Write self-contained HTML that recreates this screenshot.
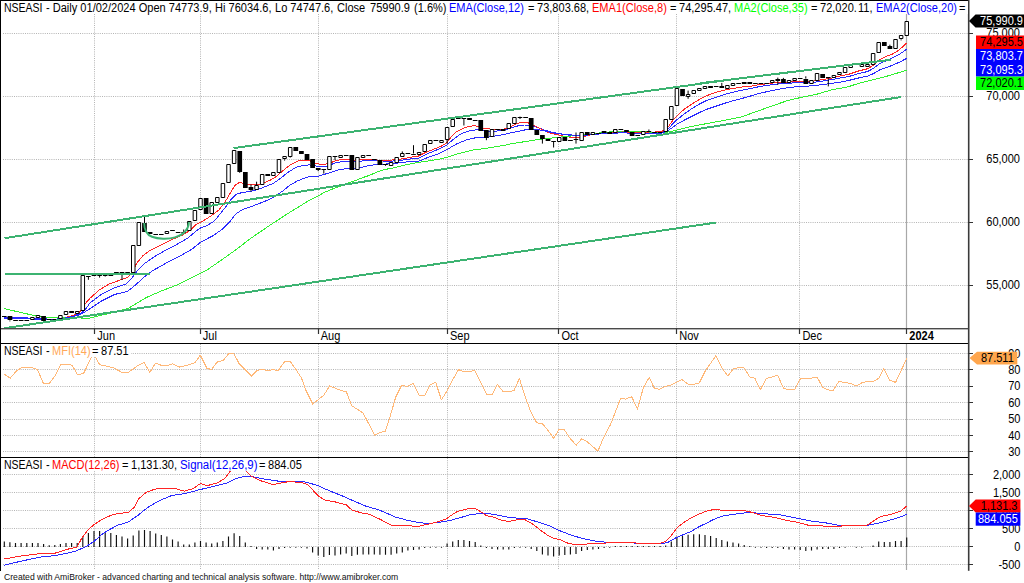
<!DOCTYPE html>
<html><head><meta charset="utf-8"><title>NSEASI - AmiBroker</title>
<style>
html,body{margin:0;padding:0;background:#fff;}
body{width:1024px;height:583px;overflow:hidden;position:relative;font-family:"Liberation Sans",Arial,sans-serif;font-size:12px;color:#000;}
svg{position:absolute;left:0;top:0;}
svg text{font-family:"Liberation Sans",Arial,sans-serif;font-size:12px;}
.t{position:absolute;white-space:pre;line-height:13px;height:13px;transform:scaleX(0.92);transform-origin:0 0;}
</style></head><body>
<svg width="1024" height="583" viewBox="0 0 1024 583">
<path d="M3 33.5H968 M3 96.5H968 M3 159.5H968 M3 222.5H968 M3 285.5H968 M3 353.5H968 M3 369.5H968 M3 386.5H968 M3 402.5H968 M3 419.5H968 M3 435.5H968 M3 451.5H968 M3 474.5H968 M3 492.5H968 M3 510.5H968 M3 528.5H968 M3 546.5H968 M3 564.5H968" stroke="#b4b4b4" stroke-width="1" stroke-dasharray="1 1.2" fill="none"/>
<path d="M94.5 14V328 M94.5 344V457 M94.5 458V570 M200.5 14V328 M200.5 344V457 M200.5 458V570 M318.5 14V328 M318.5 344V457 M318.5 458V570 M447.5 14V328 M447.5 344V457 M447.5 458V570 M558.5 14V328 M558.5 344V457 M558.5 458V570 M676.5 14V328 M676.5 344V457 M676.5 458V570 M799.5 14V328 M799.5 344V457 M799.5 458V570" stroke="#b4b4b4" stroke-width="1" stroke-dasharray="1 1.2" fill="none"/>
<path d="M906.5 14V328 M906.5 344V457 M906.5 458V570" stroke="#a8a8a8" stroke-width="1.2" fill="none"/>
<clipPath id="c1"><rect x="1" y="1" width="967" height="327"/></clipPath>
<clipPath id="c2"><rect x="1" y="344" width="967" height="113"/></clipPath>
<clipPath id="c3"><rect x="1" y="458" width="967" height="112"/></clipPath>
<g clip-path="url(#c1)">
<polyline points="4.0,317.3 31.0,318.1 53.5,319.4 61.7,318.4 72.0,316.3 79.2,314.2 84.4,310.6 90.0,303.0 101.3,294.5 114.5,287.9 125.8,284.2 131.5,278.5 137.2,270.9 144.7,263.4 154.2,256.8 165.5,250.2 176.8,244.5 188.1,237.9 195.7,231.3 201.3,227.5 207.0,225.7 214.5,220.9 219.3,214.9 225.5,207.2 230.9,199.5 236.3,194.1 242.5,192.5 250.2,191.5 257.9,189.5 265.7,186.4 273.4,183.3 281.1,177.9 288.8,171.7 296.6,167.1 304.3,165.3 309.3,164.9 318.5,166.4 326.3,166.8 334.0,163.3 343.2,161.4 352.5,162.2 361.8,161.0 372.6,160.7 383.4,161.0 392.7,161.0 401.9,160.2 411.2,158.8 419.3,158.0 428.5,153.3 437.8,149.5 447.1,144.8 453.2,139.4 459.4,134.8 465.6,132.0 471.8,130.2 478.0,129.8 484.1,130.9 493.4,131.4 502.7,130.5 510.4,128.3 518.1,125.8 524.3,125.0 528.0,125.1 532.4,125.6 538.5,127.9 544.7,130.2 550.9,132.0 558.6,133.7 566.3,134.8 575.6,135.9 584.9,135.6 594.1,134.1 603.4,133.3 612.7,132.8 621.9,132.2 631.2,132.8 645.4,132.9 660.9,132.6 667.1,130.3 671.7,124.9 676.3,120.2 684.1,114.1 691.8,108.6 699.5,104.0 707.2,100.2 716.5,97.1 725.8,94.0 735.0,91.7 744.3,89.7 749.3,88.7 758.5,86.8 767.8,85.3 777.1,84.1 786.3,83.3 795.6,82.8 804.9,82.8 814.1,82.2 823.4,81.0 832.7,79.4 841.9,77.6 849.3,76.4 858.5,73.6 867.8,71.5 874.0,67.9 880.2,63.3 886.3,60.7 892.5,57.9 898.7,54.8 903.3,51.7 906.5,49.2" fill="none" stroke="#2a2aff" stroke-width="1" stroke-linejoin="round" shape-rendering="crispEdges" />
<polyline points="63.8,317.8 72.0,315.8 78.2,313.2 81.3,310.1 85.4,303.4 90.0,298.3 99.4,289.8 108.9,284.2 120.2,280.0 127.7,277.5 132.5,270.9 137.2,262.5 142.8,255.8 150.4,250.2 161.7,244.5 171.1,239.8 182.5,235.1 190.0,230.4 195.7,224.7 203.2,220.9 210.1,216.5 218.6,210.3 224.7,202.6 230.2,193.3 234.8,185.6 239.4,182.5 244.1,183.3 248.7,184.8 256.4,184.8 262.6,183.3 270.3,180.2 276.5,176.3 282.7,170.9 290.4,164.7 298.1,160.9 304.3,160.1 309.0,160.3 315.4,163.3 323.2,164.8 329.3,163.3 337.1,160.2 346.3,159.4 352.5,160.2 361.8,159.4 371.0,159.7 380.3,160.2 389.6,160.2 398.8,159.4 408.1,157.9 414.3,156.6 417.7,156.4 425.4,152.5 433.2,149.5 440.9,146.4 447.1,142.5 451.7,136.3 456.3,131.7 462.5,128.6 468.7,126.6 474.9,125.5 479.5,127.1 485.7,128.6 493.4,129.4 502.7,129.4 510.4,126.8 518.1,123.2 524.3,122.3 528.0,122.8 532.4,124.8 538.5,127.9 544.7,131.0 550.9,133.3 558.6,134.8 566.3,136.8 574.1,137.5 581.8,136.8 588.0,135.6 594.1,134.1 603.4,133.0 612.7,132.5 621.9,131.7 631.2,132.4 645.4,132.3 660.9,131.8 667.1,128.7 671.7,121.8 676.3,116.4 684.1,109.4 691.8,104.0 699.5,99.4 707.2,95.5 716.5,92.1 725.8,89.8 735.0,88.1 744.3,86.7 749.3,86.4 758.5,84.8 767.8,83.7 777.1,82.5 786.3,82.2 795.6,81.7 804.9,81.7 814.1,81.0 823.4,79.4 832.7,77.9 841.9,75.6 849.3,74.1 858.5,71.0 867.8,68.7 874.0,64.8 880.2,59.4 886.3,56.3 892.5,54.0 898.7,50.2 903.3,46.3 906.5,42.8" fill="none" stroke="#ff2424" stroke-width="1" stroke-linejoin="round" shape-rendering="crispEdges" />
<polyline points="4.0,308.6 15.4,311.2 30.9,314.8 41.2,316.8 53.5,317.3 66.9,317.5 78.2,317.8 85.4,318.4 90.0,318.1 108.9,313.4 127.7,308.7 137.2,303.0 146.6,297.4 161.7,290.8 176.8,285.1 191.9,277.5 207.0,270.0 222.1,259.6 235.3,250.2 250.0,238.9 268.0,226.5 278.0,220.0 290.4,211.9 301.7,205.0 309.5,200.2 317.3,196.3 325.2,192.0 333.0,188.8 340.8,186.1 348.6,183.0 356.4,180.2 364.2,177.1 370.0,175.2 375.6,172.6 383.4,169.8 391.3,168.3 399.1,166.5 406.9,164.6 414.7,163.0 422.5,161.8 430.3,160.6 440.0,159.1 447.1,157.2 456.3,154.1 465.6,151.8 474.9,149.5 484.1,148.7 493.4,147.1 502.7,145.6 511.9,143.7 521.2,142.2 529.3,141.0 538.5,139.5 547.8,138.4 557.1,137.5 566.3,136.4 575.6,135.6 584.9,134.5 594.1,133.7 603.4,132.5 612.7,131.7 621.9,131.0 631.2,131.2 645.4,131.8 660.9,132.6 670.2,131.8 679.4,129.5 691.8,126.4 704.1,124.1 716.5,121.8 728.8,119.5 741.2,117.0 755.4,111.9 770.9,106.4 786.3,101.0 801.8,97.2 817.2,94.1 832.7,89.5 840.0,88.5 849.3,86.4 858.5,83.4 867.8,81.0 877.1,78.7 886.3,76.4 895.6,73.6 906.5,70.3" fill="none" stroke="#30f030" stroke-width="1" stroke-linejoin="round" shape-rendering="crispEdges" />
<polyline points="4.0,318.4 31.0,318.9 53.5,319.6 66.9,317.8 78.2,315.3 84.4,312.2 90.0,308.7 101.3,301.1 114.5,294.5 127.7,291.3 135.3,285.1 144.7,276.6 152.3,270.9 165.5,263.4 178.7,256.8 191.9,249.2 201.3,241.7 212.6,236.0 222.1,229.4 229.6,221.9 236.3,213.4 244.1,208.8 251.8,206.4 259.5,203.4 267.2,200.3 274.9,196.4 282.7,191.0 290.4,184.8 298.1,180.6 304.3,178.2 309.3,176.6 318.5,176.1 327.8,173.3 337.1,170.2 346.3,168.7 355.6,169.0 364.9,166.4 374.1,164.8 383.4,164.1 392.7,163.7 401.9,162.5 411.2,161.4 419.3,161.0 428.5,157.2 437.8,154.1 447.1,149.5 456.3,144.1 465.6,140.2 474.9,137.9 484.1,137.9 493.4,136.3 502.7,134.8 511.9,132.5 521.2,130.8 526.2,129.6 532.4,129.1 538.5,129.7 544.7,131.0 550.9,132.5 558.6,133.7 566.3,134.5 575.6,135.3 584.9,135.3 594.1,134.4 603.4,133.7 612.7,133.3 621.9,132.8 631.2,133.2 645.4,133.5 660.9,133.2 667.1,131.4 671.7,128.0 676.3,124.6 684.1,120.2 691.8,116.4 699.5,112.5 707.2,109.1 716.5,106.0 725.8,102.9 735.0,100.2 744.3,97.8 749.3,96.4 758.5,93.6 767.8,91.5 777.1,89.5 786.3,87.9 795.6,86.8 804.9,86.4 814.1,85.6 823.4,84.4 832.7,83.3 841.9,81.8 849.3,80.3 858.5,78.0 867.8,76.1 874.0,73.3 880.2,69.5 886.3,67.5 892.5,65.3 898.7,62.5 903.3,60.2 906.5,58.4" fill="none" stroke="#2a2aff" stroke-width="1" stroke-linejoin="round" shape-rendering="crispEdges" />
<path d="M9.9 320.4V321.4 M88.4 276.5V279.8 M99.6 275.5V277.6 M105.2 275.5V276.6 M122.0 272.5V280.0 M144.5 216.7V223.2 M183.7 229.5V233.2 M239.7 171.7V172.8 M251.0 184.5V186.8 M251.0 189.9V191.5 M256.6 181.7V185.3 M284.6 159.3V160.6 M290.2 156.6V157.6 M318.2 170.0V171.2 M323.8 169.5V173.6 M335.0 156.5V160.2 M385.5 164.8V165.8 M402.3 151.4V153.2 M413.5 145.2V153.5 M447.1 139.7V144.0 M463.9 118.5V125.5 M486.4 137.6V140.2 M520.0 116.6V119.0 M542.4 139.0V143.6 M553.6 141.5V147.5 M576.0 132.5V143.6 M648.9 129.5V130.9 M688.1 90.6V94.2 M688.1 96.8V98.8 M721.8 82.9V86.3 M777.8 77.6V79.4 M777.8 81.0V84.8 M783.4 77.9V79.4 M805.8 76.3V78.6 M828.3 78.2V86.4 M856.3 63.0V64.0 M889.9 44.7V46.3 M901.1 39.3V40.4" stroke="#000" stroke-width="1" fill="none"/>
<path d="M2.0 316.5H6.6 M24.4 320.5H29.1 M46.9 319.5H51.5 M86.1 276.5H90.7 M97.3 275.5H101.9 M102.9 275.5H107.5 M119.7 272.5H124.3 M125.3 272.5H129.9 M153.4 234.5H158.0 M159.0 234.5H163.6 M175.8 232.5H180.4 M181.4 232.5H186.0 M321.5 169.5H326.1 M332.7 156.5H337.3 M343.9 155.5H348.5 M405.6 153.5H410.2 M456.0 118.5H460.6 M461.6 118.5H466.2 M495.3 129.5H499.9 M517.7 117.5H522.3 M551.3 141.5H555.9 M573.7 139.5H578.3 M596.2 133.5H600.8 M635.4 135.5H640.0 M657.8 132.5H662.4 M713.9 86.5H718.5 M736.3 83.5H740.9 M753.1 83.5H757.7 M758.7 83.5H763.3 M764.3 83.5H768.9 M797.9 78.5H802.5" stroke="#000" stroke-width="1" fill="none"/>
<path d="M30.61 317.5H34.11V319.5H30.61Z M36.21 315.5H39.71V317.5H36.21Z M58.63 315.5H62.13V318.5H58.63Z M64.23 311.5H67.73V314.5H64.23Z M75.45 311.5H78.95V313.5H75.45Z M81.05 275.5H84.55V310.5H81.05Z M131.50 245.5H135.00V272.5H131.50Z M137.10 222.5H140.60V245.5H137.10Z M165.13 231.5H168.63V233.5H165.13Z M187.55 221.5H191.05V230.5H187.55Z M193.15 210.5H196.65V220.5H193.15Z M198.76 198.5H202.26V209.5H198.76Z M209.97 202.5H213.47V213.5H209.97Z M215.57 197.5H219.07V202.5H215.57Z M221.18 183.5H224.68V197.5H221.18Z M226.78 164.5H230.28V182.5H226.78Z M232.39 150.5H235.89V163.5H232.39Z M254.81 185.5H258.31V189.5H254.81Z M260.41 174.5H263.91V184.5H260.41Z M271.62 172.5H275.12V175.5H271.62Z M277.23 159.5H280.73V172.5H277.23Z M282.83 156.5H286.33V158.5H282.83Z M288.44 147.5H291.94V156.5H288.44Z M327.67 156.5H331.17V169.5H327.67Z M338.88 155.5H342.38V157.5H338.88Z M355.69 157.5H359.19V169.5H355.69Z M361.30 155.5H364.80V157.5H361.30Z M389.32 162.5H392.82V165.5H389.32Z M394.93 157.5H398.43V162.5H394.93Z M400.54 153.5H404.04V156.5H400.54Z M417.35 152.5H420.85V154.5H417.35Z M422.96 144.5H426.46V151.5H422.96Z M428.56 140.5H432.06V143.5H428.56Z M439.77 140.5H443.27V142.5H439.77Z M445.38 127.5H448.88V139.5H445.38Z M450.98 119.5H454.48V126.5H450.98Z M490.22 129.5H493.72V136.5H490.22Z M507.03 123.5H510.53V128.5H507.03Z M512.64 117.5H516.14V123.5H512.64Z M557.48 137.5H560.98V141.5H557.48Z M579.90 132.5H583.40V140.5H579.90Z M591.11 132.5H594.61V134.5H591.11Z M613.53 129.5H617.03V132.5H613.53Z M641.55 131.5H645.05V134.5H641.55Z M663.97 119.5H667.47V131.5H663.97Z M669.58 106.5H673.08V119.5H669.58Z M675.18 88.5H678.68V105.5H675.18Z M686.39 94.5H689.89V96.5H686.39Z M692.00 90.5H695.50V93.5H692.00Z M697.60 88.5H701.10V90.5H697.60Z M703.21 86.5H706.71V88.5H703.21Z M725.63 85.5H729.13V88.5H725.63Z M731.23 83.5H734.73V85.5H731.23Z M770.47 80.5H773.97V82.5H770.47Z M787.28 80.5H790.78V82.5H787.28Z M792.89 78.5H796.39V80.5H792.89Z M809.70 80.5H813.20V83.5H809.70Z M815.31 73.5H818.81V80.5H815.31Z M832.12 75.5H835.62V77.5H832.12Z M837.73 72.5H841.23V74.5H837.73Z M843.33 67.5H846.83V72.5H843.33Z M848.94 65.5H852.44V67.5H848.94Z M860.15 64.5H863.65V66.5H860.15Z M865.75 64.5H869.25V66.5H865.75Z M871.36 53.5H874.86V64.5H871.36Z M876.96 42.5H880.46V52.5H876.96Z M893.78 39.5H897.28V48.5H893.78Z M899.38 35.5H902.88V38.5H899.38Z M904.99 21.5H908.49V35.5H904.99Z" stroke="#000" stroke-width="1" fill="#fff"/>
<path d="M7.59 316H12.29V320H7.59Z M13.19 320H17.89V321H13.19Z M18.80 320H23.50V321H18.80Z M41.21 316H45.91V321H41.21Z M52.43 319H57.13V320H52.43Z M69.24 311H73.94V313H69.24Z M91.66 274H96.36V276H91.66Z M108.48 274H113.17V276H108.48Z M114.08 272H118.78V273H114.08Z M142.11 223H146.81V232H142.11Z M147.71 232H152.41V234H147.71Z M170.13 230H174.83V231H170.13Z M203.76 198H208.46V214H203.76Z M237.39 151H242.09V172H237.39Z M243.00 172H247.70V188H243.00Z M248.60 187H253.30V190H248.60Z M265.41 174H270.12V176H265.41Z M293.44 147H298.14V151H293.44Z M299.04 151H303.75V154H299.04Z M304.65 154H309.35V160H304.65Z M310.25 159H314.96V168H310.25Z M315.86 168H320.56V170H315.86Z M349.49 155H354.19V170H349.49Z M366.31 155H371.01V156H366.31Z M371.91 159H376.61V160H371.91Z M377.51 160H382.22V165H377.51Z M383.12 164H387.82V165H383.12Z M411.14 154H415.85V155H411.14Z M433.56 140H438.27V141H433.56Z M467.19 118H471.90V120H467.19Z M472.80 120H477.50V121H472.80Z M478.40 120H483.11V131H478.40Z M484.01 130H488.71V138H484.01Z M500.82 129H505.53V131H500.82Z M523.25 117H527.95V118H523.25Z M528.85 118H533.55V130H528.85Z M534.46 130H539.16V135H534.46Z M540.06 135H544.76V139H540.06Z M545.67 139H550.37V141H545.67Z M562.48 137H567.18V141H562.48Z M568.09 140H572.79V141H568.09Z M584.90 132H589.60V135H584.90Z M601.72 131H606.42V133H601.72Z M607.32 132H612.02V134H607.32Z M618.53 129H623.23V130H618.53Z M624.14 130H628.84V132H624.14Z M629.74 132H634.44V136H629.74Z M646.56 131H651.26V132H646.56Z M652.16 132H656.86V133H652.16Z M680.19 89H684.89V96H680.19Z M708.21 86H712.91V88H708.21Z M719.42 86H724.12V88H719.42Z M741.84 82H746.54V84H741.84Z M747.45 82H752.15V84H747.45Z M775.47 79H780.17V81H775.47Z M781.08 79H785.78V83H781.08Z M803.50 79H808.20V84H803.50Z M820.31 74H825.01V78H820.31Z M825.92 77H830.62V78H825.92Z M853.94 64H858.64V65H853.94Z M881.97 42H886.67V46H881.97Z M887.57 46H892.27V49H887.57Z" fill="#000"/>
<line x1="4.6" y1="273.9" x2="150.3" y2="273.9" stroke="#3cb371" stroke-width="2" shape-rendering="crispEdges"/>
<line x1="4.5" y1="238.2" x2="901" y2="97.0" stroke="#3cb371" stroke-width="2" shape-rendering="crispEdges"/>
<line x1="233.5" y1="148.1" x2="737" y2="78.7" stroke="#3cb371" stroke-width="2" shape-rendering="crispEdges"/>
<line x1="700" y1="83.3" x2="890.8" y2="59.8" stroke="#3cb371" stroke-width="2" shape-rendering="crispEdges"/>
<line x1="4.6" y1="328.2" x2="716.3" y2="222.5" stroke="#3cb371" stroke-width="2" shape-rendering="crispEdges"/>
<path d="M144.2 223 C144.2 229,146 234.5,152 236.8 C158 239.2,168 239.6,175 237.4 C182 235.2,188.6 231,188.9 222" stroke="#3cb371" stroke-width="2" fill="none"/>
</g>
<g clip-path="url(#c2)">
<polyline points="4.3,374.2 10.3,378.1 15.8,371.6 21.3,367.7 32.5,367.7 37.5,369.6 43.4,383.4 49.3,383.4 55.2,375.5 61.1,364.3 72.0,365.1 77.9,375.2 83.8,373.0 91.1,357.8 93.6,348.0 96.0,357.8 99.6,364.7 113.4,367.7 122.3,372.6 128.2,372.6 136.1,366.7 144.0,362.3 149.9,372.4 155.5,363.1 160.8,365.1 168.7,365.1 172.7,363.7 179.6,367.1 187.5,365.1 195.0,362.7 200.3,355.2 206.8,368.2 211.5,369.6 217.5,361.7 223.4,360.4 228.9,353.3 233.8,353.3 238.8,363.1 251.6,376.1 257.5,370.2 262.4,369.6 268.3,370.6 273.3,369.6 278.2,370.6 284.5,361.7 290.4,361.7 296.0,369.6 301.5,378.0 305.9,390.3 312.8,404.1 318.7,399.2 323.7,395.3 329.6,386.0 340.4,390.3 346.4,391.9 351.7,405.7 363.1,413.0 374.6,435.1 379.9,432.7 385.2,431.2 389.7,417.9 395.7,397.2 401.6,385.4 407.5,386.4 413.4,383.4 419.3,395.3 424.7,395.3 430.2,384.8 435.7,382.4 441.4,399.8 447.5,390.3 452.9,379.5 458.5,369.6 463.4,371.6 469.7,371.6 474.7,370.2 480.6,382.4 486.5,394.3 492.4,394.3 497.3,384.4 502.9,391.3 509.2,391.7 514.1,390.3 519.4,378.5 525.0,396.3 530.9,412.0 536.8,422.9 542.3,423.5 547.6,429.8 553.6,438.3 558.9,429.8 564.4,429.8 570.3,438.7 576.2,445.2 581.8,438.7 587.1,441.6 597.9,451.1 603.5,437.7 610.8,423.9 620.7,398.2 625.6,399.2 631.6,396.6 637.5,409.1 643.4,387.4 649.3,377.5 654.2,388.0 659.2,389.4 665.1,386.4 671.0,385.0 681.9,379.5 687.8,384.0 693.7,384.4 699.2,383.0 705.5,370.6 715.8,355.8 721.9,367.7 727.8,376.1 733.1,369.0 738.1,367.7 744.4,368.0 749.5,376.9 754.9,378.3 760.3,389.9 766.2,378.5 772.1,376.9 777.6,375.2 783.5,388.4 788.9,389.9 794.4,389.9 800.3,378.9 806.2,378.9 811.1,378.1 817.1,376.9 822.6,387.4 827.9,389.7 832.8,390.9 838.8,381.5 844.7,382.4 850.6,383.4 856.5,386.0 861.4,383.0 866.4,381.5 872.7,381.5 878.6,378.5 883.7,368.6 889.6,380.1 895.6,382.4 901.5,369.6 906.8,358.4" fill="none" stroke="#ffb878" stroke-width="1" stroke-linejoin="round" shape-rendering="crispEdges" />
</g>
<g clip-path="url(#c3)">
<path d="M4.3 546.9V541.5 M9.9 546.9V542.3 M15.5 546.9V542.9 M21.1 546.9V542.9 M26.8 546.9V542.9 M32.4 546.9V542.9 M38.0 546.9V542.9 M43.6 546.9V543.9 M49.2 546.9V545.3 M54.8 546.9V544.9 M60.4 546.9V543.9 M66.0 546.9V542.9 M71.6 546.9V542.9 M77.2 546.9V542.9 M82.8 546.9V537.0 M88.4 546.9V533.0 M94.0 546.9V531.1 M99.6 546.9V531.1 M105.2 546.9V532.1 M110.8 546.9V533.0 M116.4 546.9V535.0 M122.0 546.9V536.6 M127.6 546.9V538.4 M133.2 546.9V535.6 M138.9 546.9V530.5 M144.5 546.9V530.1 M150.1 546.9V530.9 M155.7 546.9V533.6 M161.3 546.9V535.1 M166.9 546.9V536.6 M172.5 546.9V539.6 M178.1 546.9V541.6 M183.7 546.9V544.5 M189.3 546.9V544.5 M194.9 546.9V542.6 M200.5 546.9V541.0 M206.1 546.9V542.6 M211.7 546.9V543.5 M217.3 546.9V542.6 M222.9 546.9V541.0 M228.5 546.9V536.6 M234.1 546.9V533.3 M239.7 546.9V536.1 M245.3 546.9V542.6 M251.0 546.9V546.1 M256.6 546.9V548.9 M262.2 546.9V549.5 M267.8 546.9V549.5 M273.4 546.9V550.5 M279.0 546.9V548.9 M284.6 546.9V547.9 M290.2 546.9V547.7 M295.8 546.9V547.7 M301.4 546.9V547.7 M307.0 546.9V548.5 M312.6 546.9V552.4 M318.2 546.9V555.4 M323.8 546.9V556.9 M329.4 546.9V555.0 M335.0 546.9V555.4 M340.6 546.9V554.4 M346.2 546.9V553.4 M351.8 546.9V556.0 M357.4 546.9V554.8 M363.1 546.9V554.4 M368.7 546.9V554.4 M374.3 546.9V554.4 M379.9 546.9V554.8 M385.5 546.9V554.8 M391.1 546.9V554.8 M396.7 546.9V553.4 M402.3 546.9V552.4 M407.9 546.9V550.5 M413.5 546.9V550.1 M419.1 546.9V549.5 M424.7 546.9V547.9 M430.3 546.9V547.7 M435.9 546.9V547.7 M441.5 546.9V547.7 M447.1 546.9V543.5 M452.7 546.9V541.4 M458.3 546.9V540.1 M463.9 546.9V540.0 M469.5 546.9V541.0 M475.2 546.9V542.0 M480.8 546.9V545.5 M486.4 546.9V547.9 M492.0 546.9V548.9 M497.6 546.9V549.5 M503.2 546.9V549.5 M508.8 546.9V549.5 M514.4 546.9V547.9 M520.0 546.9V547.7 M525.6 546.9V547.7 M531.2 546.9V549.1 M536.8 546.9V551.0 M542.4 546.9V554.4 M548.0 546.9V555.4 M553.6 546.9V556.4 M559.2 546.9V555.4 M564.8 546.9V555.0 M570.4 546.9V554.4 M576.0 546.9V554.0 M581.6 546.9V551.0 M587.3 546.9V550.1 M592.9 546.9V549.5 M598.5 546.9V548.9 M604.1 546.9V547.9 M609.7 546.9V547.7 M615.3 546.9V546.1 M620.9 546.9V546.1 M626.5 546.9V546.1 M632.1 546.9V546.1 M637.7 546.9V546.1 M643.3 546.9V546.1 M648.9 546.9V546.1 M654.5 546.9V546.1 M660.1 546.9V546.1 M665.7 546.9V545.5 M671.3 546.9V541.6 M676.9 546.9V536.6 M682.5 546.9V535.7 M688.1 546.9V534.7 M693.7 546.9V534.3 M699.4 546.9V534.3 M705.0 546.9V535.1 M710.6 546.9V536.1 M716.2 546.9V538.0 M721.8 546.9V540.0 M727.4 546.9V541.6 M733.0 546.9V542.6 M738.6 546.9V543.5 M744.2 546.9V545.1 M749.8 546.9V546.1 M755.4 546.9V547.7 M761.0 546.9V547.7 M766.6 546.9V547.9 M772.2 546.9V548.1 M777.8 546.9V548.1 M783.4 546.9V549.1 M789.0 546.9V549.5 M794.6 546.9V549.5 M800.2 546.9V549.9 M805.8 546.9V551.0 M811.5 546.9V550.5 M817.1 546.9V549.5 M822.7 546.9V549.1 M828.3 546.9V549.1 M833.9 546.9V549.1 M839.5 546.9V548.1 M845.1 546.9V547.7 M856.3 546.9V547.7 M861.9 546.9V547.7 M873.1 546.9V545.5 M878.7 546.9V541.6 M884.3 546.9V542.0 M889.9 546.9V542.0 M895.5 546.9V541.0 M901.1 546.9V541.0 M906.7 546.9V537.6" stroke="#111" stroke-width="1.15" fill="none"/>
<polyline points="4.3,565.1 19.7,561.5 39.4,557.2 55.2,555.6 67.1,553.3 76.9,550.7 86.8,546.2 94.7,540.8 102.6,533.9 110.5,529.0 118.3,525.0 128.2,522.1 138.1,515.2 147.9,507.3 159.9,500.4 171.7,495.5 185.5,493.5 200.3,489.5 213.1,486.6 226.9,483.0 236.8,478.3 244.7,476.3 252.6,476.7 264.4,479.1 278.2,481.1 292.0,481.1 301.9,481.3 307.9,482.6 317.8,485.6 329.6,490.9 341.4,495.5 353.3,500.8 365.1,505.9 378.9,509.9 386.8,513.2 394.7,516.8 406.5,520.1 418.3,522.5 428.2,523.5 438.1,522.5 449.9,520.5 459.9,517.8 469.7,514.8 481.6,513.2 493.4,514.2 505.2,516.8 517.1,518.1 526.9,518.7 536.8,521.7 548.6,525.4 560.5,531.0 572.3,535.5 584.1,538.9 596.0,541.2 607.9,542.4 619.7,542.4 631.6,542.8 643.4,543.8 659.2,543.8 667.1,542.8 674.9,538.3 682.8,534.9 690.7,531.6 698.6,527.0 706.5,523.1 714.4,519.1 722.3,516.2 734.1,514.2 746.0,512.8 753.8,512.8 761.8,513.6 779.6,514.8 799.3,518.7 811.1,521.1 824.9,522.7 836.8,525.0 848.6,525.4 867.4,525.4 878.2,523.1 888.1,520.7 897.9,517.8 903.8,515.8 906.5,514.4" fill="none" stroke="#2a2aff" stroke-width="1" stroke-linejoin="round" shape-rendering="crispEdges" />
<polyline points="4.3,559.0 19.7,556.2 37.5,554.0 55.2,553.1 67.1,549.3 76.9,547.3 81.9,537.9 88.8,529.0 94.7,524.1 102.6,519.1 110.5,515.6 118.3,513.2 128.2,512.8 134.1,507.3 139.1,498.4 146.0,492.5 153.8,489.5 159.9,488.2 173.7,488.2 184.5,491.1 193.4,488.6 200.3,483.6 207.2,485.6 217.1,483.0 225.0,478.3 229.9,471.8 234.0,467.0 238.0,466.0 242.0,467.5 245.7,470.8 250.6,475.7 260.5,480.7 273.3,484.6 288.1,481.7 299.9,482.2 307.9,484.6 317.8,495.5 324.7,500.0 335.5,502.0 346.4,504.9 351.7,509.9 361.1,512.8 369.0,514.2 378.9,518.7 391.1,525.0 402.6,525.0 412.4,526.0 420.3,526.0 428.2,524.1 438.1,521.7 446.0,519.1 452.9,514.2 457.9,511.2 467.8,508.7 475.6,508.7 481.6,512.2 486.5,515.6 493.4,517.2 501.3,520.1 509.2,521.5 517.1,519.7 525.0,519.7 532.8,524.1 540.7,530.4 548.6,535.9 554.5,538.5 560.5,539.8 568.3,543.4 576.2,544.8 582.1,544.8 588.1,543.8 597.9,543.8 607.9,542.8 619.7,542.4 631.6,542.8 643.4,543.4 659.2,543.4 665.1,541.8 671.0,535.9 676.9,528.0 682.8,523.1 690.7,518.1 698.6,514.2 706.5,511.2 714.4,509.3 722.3,510.3 738.1,510.3 747.9,511.2 761.8,515.6 773.7,517.2 785.5,520.1 799.3,522.7 811.1,526.0 817.1,525.0 826.9,526.6 838.8,526.4 848.6,525.0 867.4,525.0 873.3,521.1 879.2,517.2 884.1,515.6 890.0,514.6 896.0,512.8 901.5,510.7 906.5,506.0" fill="none" stroke="#ff2424" stroke-width="1" stroke-linejoin="round" shape-rendering="crispEdges" />
</g>
<path d="M0 0.5H969 M0.5 0V570.8 M0 343.5H969 M0 457.5H969" stroke="#000" stroke-width="1" fill="none" shape-rendering="crispEdges"/>
<rect x="967.9" y="0" width="1.6" height="570.8" fill="#3a3a3a"/>
<rect x="1" y="328" width="967.5" height="1.4" fill="#4a4a4a"/>
<path d="M968 33.5H973 M968 96.5H973 M968 159.5H973 M968 222.5H973 M968 285.5H973 M968 353.5H973 M968 369.5H973 M968 386.5H973 M968 402.5H973 M968 419.5H973 M968 435.5H973 M968 451.5H973 M968 474.5H973 M968 492.5H973 M968 510.5H973 M968 528.5H973 M968 546.5H973 M968 564.5H973 M94.5 328.5V334 M200.5 328.5V334 M318.5 328.5V334 M447.5 328.5V334 M558.5 328.5V334 M676.5 328.5V334 M799.5 328.5V334 M906.5 328.5V334" stroke="#333" stroke-width="1.2" fill="none"/>
<text transform="translate(1020,37.400000000000006) scale(0.92,1)" text-anchor="end" fill="#000">75,000</text>
<text transform="translate(1020,100.4) scale(0.92,1)" text-anchor="end" fill="#000">70,000</text>
<text transform="translate(1020,163.29999999999998) scale(0.92,1)" text-anchor="end" fill="#000">65,000</text>
<text transform="translate(1020,226.29999999999998) scale(0.92,1)" text-anchor="end" fill="#000">60,000</text>
<text transform="translate(1020,289.4) scale(0.92,1)" text-anchor="end" fill="#000">55,000</text>
<text transform="translate(1020.5,357.59999999999997) scale(0.92,1)" text-anchor="end" fill="#000">90</text>
<text transform="translate(1020.5,374.0) scale(0.92,1)" text-anchor="end" fill="#000">80</text>
<text transform="translate(1020.5,390.4) scale(0.92,1)" text-anchor="end" fill="#000">70</text>
<text transform="translate(1020.5,406.8) scale(0.92,1)" text-anchor="end" fill="#000">60</text>
<text transform="translate(1020.5,423.2) scale(0.92,1)" text-anchor="end" fill="#000">50</text>
<text transform="translate(1020.5,439.59999999999997) scale(0.92,1)" text-anchor="end" fill="#000">40</text>
<text transform="translate(1020.5,456.0) scale(0.92,1)" text-anchor="end" fill="#000">30</text>
<text transform="translate(1020.5,479.0) scale(0.92,1)" text-anchor="end" fill="#000">2,000</text>
<text transform="translate(1020.5,497.0) scale(0.92,1)" text-anchor="end" fill="#000">1,500</text>
<text transform="translate(1020.5,515.0) scale(0.92,1)" text-anchor="end" fill="#000">1,000</text>
<text transform="translate(1020.5,533.0) scale(0.92,1)" text-anchor="end" fill="#000">500</text>
<text transform="translate(1020.5,551.0) scale(0.92,1)" text-anchor="end" fill="#000">0</text>
<text transform="translate(1020.5,569.0) scale(0.92,1)" text-anchor="end" fill="#000">-500</text>
<text transform="translate(97.3,339.5) scale(0.92,1)" text-anchor="start" fill="#000">Jun</text>
<text transform="translate(202.8,339.5) scale(0.92,1)" text-anchor="start" fill="#000">Jul</text>
<text transform="translate(320.7,339.5) scale(0.92,1)" text-anchor="start" fill="#000">Aug</text>
<text transform="translate(450.0,339.5) scale(0.92,1)" text-anchor="start" fill="#000">Sep</text>
<text transform="translate(561.4,339.5) scale(0.92,1)" text-anchor="start" fill="#000">Oct</text>
<text transform="translate(679.2,339.5) scale(0.92,1)" text-anchor="start" fill="#000">Nov</text>
<text transform="translate(802.4,339.5) scale(0.92,1)" text-anchor="start" fill="#000">Dec</text>
<text transform="translate(909.3,339.5) scale(0.92,1)" text-anchor="start" fill="#000" font-weight="bold">2024</text>
<path d="M969 21L975.5 14.5H1024V27.5H975.5Z" fill="#000"/>
<text transform="translate(1023,25) scale(0.92,1)" text-anchor="end" fill="#fff">75,990.9</text>
<rect x="976" y="35.5" width="48" height="13.5" fill="#ff0000"/>
<text transform="translate(1023,46.4) scale(0.92,1)" text-anchor="end" fill="#000">74,295.5</text>
<rect x="976" y="49" width="48" height="27.6" fill="#0000ff"/>
<text transform="translate(1023,60) scale(0.92,1)" text-anchor="end" fill="#fff">73,803.7</text>
<text transform="translate(1023,73.6) scale(0.92,1)" text-anchor="end" fill="#fff">73,095.3</text>
<rect x="976" y="76.6" width="48" height="13.4" fill="#00ff00"/>
<text transform="translate(1023,87.4) scale(0.92,1)" text-anchor="end" fill="#000">72,020.1</text>
<path d="M969.5 358L977 351.7H1017.3V364.4H977Z" fill="#ffa64d"/>
<text transform="translate(1013.8,362.2) scale(0.92,1)" text-anchor="end" fill="#000">87.511</text>
<path d="M969 506L975.7 499.4H1020.4V512.5H975.7Z" fill="#ff0000"/>
<text transform="translate(1017.5,510.2) scale(0.92,1)" text-anchor="end" fill="#000">1,131.3</text>
<rect x="975.7" y="512.5" width="44.7" height="13.2" fill="#0000ff"/>
<text transform="translate(1017.8,523.4) scale(0.92,1)" text-anchor="end" fill="#fff">884.055</text>
</svg>
<div style="position:absolute;left:2px;top:1px;width:966px;height:13px;background:#fff"></div>
<span class="t" style="left:3.5px;top:2.1px;color:#000;transform:scaleX(0.875)">NSEASI</span>
<span class="t" style="left:45.9px;top:2.1px;color:#000;">- Daily 01/02/2024 Open 74773.9,</span>
<span class="t" style="left:215.2px;top:2.1px;color:#000;">Hi 76034.6,</span>
<span class="t" style="left:275.2px;top:2.1px;color:#000;">Lo 74747.6,</span>
<span class="t" style="left:337.3px;top:2.1px;color:#000;">Close</span>
<span class="t" style="left:370.2px;top:2.1px;color:#000;">75990.9</span>
<span class="t" style="left:414.1px;top:2.1px;color:#000;">(1.6%)</span>
<span class="t" style="left:449.4px;top:2.1px;color:#0000ff;">EMA(Close,12)</span>
<span class="t" style="left:527.8px;top:2.1px;color:#000;">=</span>
<span class="t" style="left:536.7px;top:2.1px;color:#000;">73,803.68,</span>
<span class="t" style="left:592.1px;top:2.1px;color:#ff0000;">EMA1(Close,8)</span>
<span class="t" style="left:670.0px;top:2.1px;color:#000;">=</span>
<span class="t" style="left:678.9px;top:2.1px;color:#000;">74,295.47,</span>
<span class="t" style="left:734.1px;top:2.1px;color:#00ff00;">MA2(Close,35)</span>
<span class="t" style="left:811.4px;top:2.1px;color:#000;">=</span>
<span class="t" style="left:820.3px;top:2.1px;color:#000;">72,020.</span>
<span class="t" style="left:857.8px;top:2.1px;color:#000;">11,</span>
<span class="t" style="left:875.6px;top:2.1px;color:#0000ff;">EMA2(Close,20)</span>
<span class="t" style="left:959.3px;top:2.1px;color:#000;">=</span>
<div style="position:absolute;left:2px;top:344px;width:128.5px;height:13.2px;background:#fff"></div>
<span class="t" style="left:3.5px;top:344.7px;color:#000;transform:scaleX(0.875)">NSEASI</span>
<span class="t" style="left:45.9px;top:344.7px;color:#000;">-</span>
<span class="t" style="left:51.5px;top:344.7px;color:#ffa858;">MFI(14)</span>
<span class="t" style="left:91.8px;top:344.7px;color:#000;">=</span>
<span class="t" style="left:101.1px;top:344.7px;color:#000;">87.51</span>
<div style="position:absolute;left:2px;top:458px;width:302px;height:12.5px;background:#fff"></div>
<span class="t" style="left:3.5px;top:458.7px;color:#000;transform:scaleX(0.875)">NSEASI</span>
<span class="t" style="left:45.9px;top:458.7px;color:#000;">-</span>
<span class="t" style="left:51.5px;top:458.7px;color:#ff0000;">MACD(12,26)</span>
<span class="t" style="left:121.8px;top:458.7px;color:#000;">=</span>
<span class="t" style="left:131.0px;top:458.7px;color:#000;">1,131.30,</span>
<span class="t" style="left:179.9px;top:458.7px;color:#0000ff;transform:scaleX(0.952)">Signal(12,26,9)</span>
<span class="t" style="left:259.1px;top:458.7px;color:#000;">=</span>
<span class="t" style="left:268.4px;top:458.7px;color:#000;">884.05</span>
<span class="t" style="left:4.2px;top:572px;font-size:9.33px;line-height:11px;height:11px;color:#111;background:none;transform:scaleX(0.925)">Created with AmiBroker - advanced charting and technical analysis software. http://www.amibroker.com</span>
</body></html>
